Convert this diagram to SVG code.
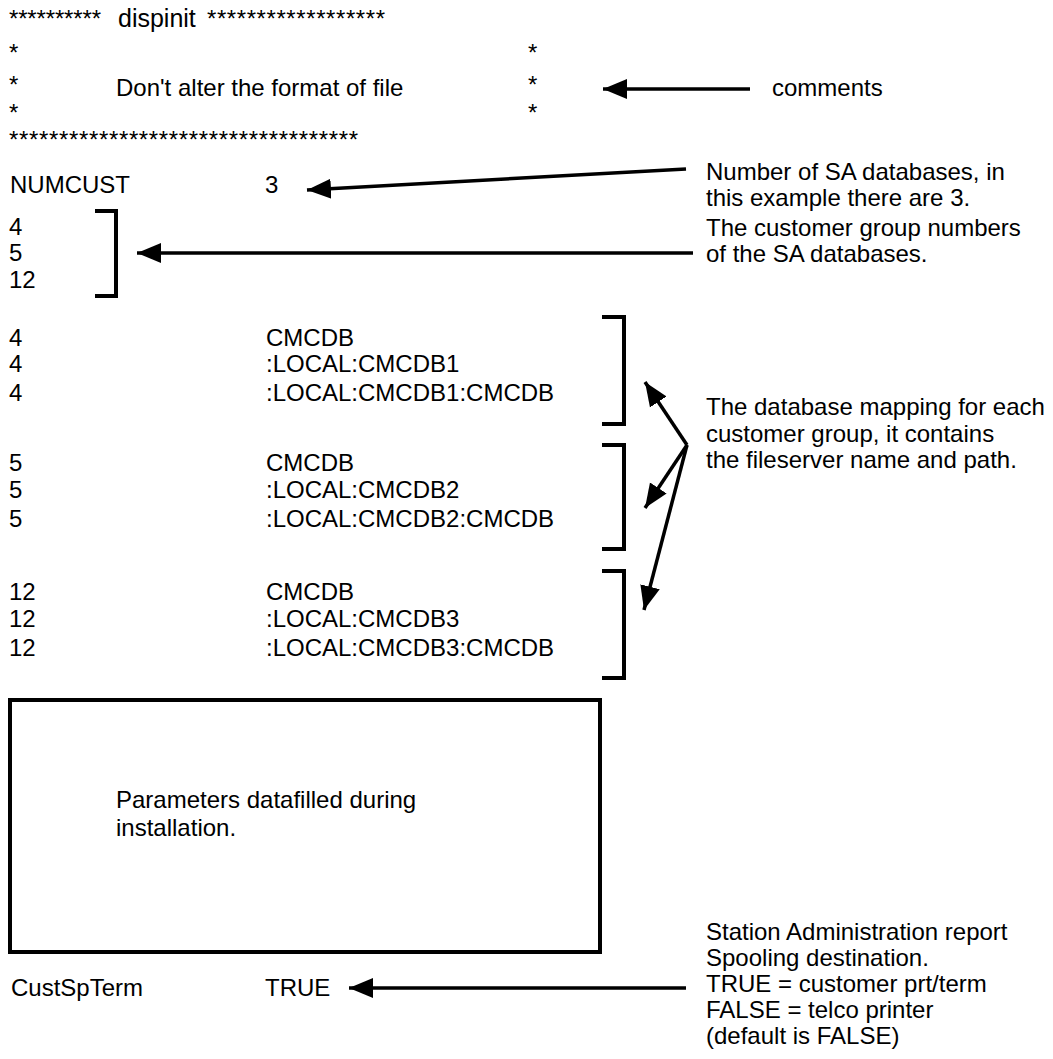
<svg xmlns="http://www.w3.org/2000/svg" width="1053" height="1059" viewBox="0 0 1053 1059">
<style>
text{font-family:"Liberation Sans",Arial,sans-serif;font-size:24px;fill:#000}
.ln{stroke:#000;stroke-width:3.5;fill:none}
.br{stroke:#000;stroke-width:4;fill:none}
</style>
<defs>
<marker id="ah" markerUnits="userSpaceOnUse" markerWidth="26" markerHeight="22" refX="24" refY="11" orient="auto">
<path d="M0,1 L24,11 L0,21 Z" fill="#000"/>
</marker>
</defs>
<rect width="1053" height="1059" fill="#fff"/>
<g id="header">
<text x="9" y="27" textLength="92" lengthAdjust="spacing">**********</text>
<text x="118" y="27" style="font-size:25px">dispinit</text>
<text x="207" y="27" textLength="178" lengthAdjust="spacing">******************</text>
<text x="9" y="61">*</text><text x="528" y="61">*</text>
<text x="9" y="93">*</text><text x="528" y="93">*</text>
<text x="116" y="96">Don't alter the format of file</text>
<text x="9" y="121">*</text><text x="528" y="121">*</text>
<text x="9" y="148" textLength="349" lengthAdjust="spacing">***********************************</text>
</g>
<g id="numcust">
<text x="10" y="193">NUMCUST</text>
<text x="265" y="193">3</text>
</g>
<g id="custgroups">
<text x="9" y="235">4</text>
<text x="9" y="261">5</text>
<text x="9" y="288">12</text>
<path class="br" d="M95,211 H116 V296 H95"/>
</g>
<g id="group4">
<text x="9" y="346">4</text><text x="266" y="346">CMCDB</text>
<text x="9" y="372">4</text><text x="266" y="372">:LOCAL:CMCDB1</text>
<text x="9" y="401">4</text><text x="266" y="401">:LOCAL:CMCDB1:CMCDB</text>
<path class="br" d="M602,317 H624 V424 H602"/>
</g>
<g id="group5">
<text x="9" y="471">5</text><text x="266" y="471">CMCDB</text>
<text x="9" y="498">5</text><text x="266" y="498">:LOCAL:CMCDB2</text>
<text x="9" y="527">5</text><text x="266" y="527">:LOCAL:CMCDB2:CMCDB</text>
<path class="br" d="M602,445 H624 V549 H602"/>
</g>
<g id="group12">
<text x="9" y="600">12</text><text x="266" y="600">CMCDB</text>
<text x="9" y="627">12</text><text x="266" y="627">:LOCAL:CMCDB3</text>
<text x="9" y="656">12</text><text x="266" y="656">:LOCAL:CMCDB3:CMCDB</text>
<path class="br" d="M602,571 H624 V678 H602"/>
</g>
<g id="params">
<rect x="10" y="700" width="590" height="252" fill="none" stroke="#000" stroke-width="4"/>
<text x="116" y="808">Parameters datafilled during</text>
<text x="116" y="836">installation.</text>
</g>
<g id="custspterm">
<text x="11" y="996">CustSpTerm</text>
<text x="265" y="996">TRUE</text>
</g>
<g id="notes">
<text x="772" y="96">comments</text>
<text x="706" y="180">Number of SA databases, in</text>
<text x="706" y="206">this example there are 3.</text>
<text x="706" y="236">The customer group numbers</text>
<text x="706" y="262">of the SA databases.</text>
<text x="706" y="415">The database mapping for each</text>
<text x="706" y="442">customer group, it contains</text>
<text x="706" y="468">the fileserver name and path.</text>
<text x="706" y="940">Station Administration report</text>
<text x="706" y="966">Spooling destination.</text>
<text x="706" y="992">TRUE = customer prt/term</text>
<text x="706" y="1018">FALSE = telco printer</text>
<text x="706" y="1044">(default is FALSE)</text>
</g>
<g id="connectors">
<line class="ln" x1="750" y1="89" x2="603" y2="89" marker-end="url(#ah)"/>
<line class="ln" x1="686" y1="169" x2="307" y2="190" marker-end="url(#ah)"/>
<line class="ln" x1="693" y1="253" x2="137" y2="253" marker-end="url(#ah)"/>
<line class="ln" x1="687" y1="445" x2="645" y2="382" marker-end="url(#ah)"/>
<line class="ln" x1="687" y1="445" x2="645" y2="508" marker-end="url(#ah)"/>
<line class="ln" x1="687" y1="445" x2="644" y2="610" marker-end="url(#ah)"/>
<line class="ln" x1="686" y1="988" x2="349" y2="988" marker-end="url(#ah)"/>
</g>
</svg>
